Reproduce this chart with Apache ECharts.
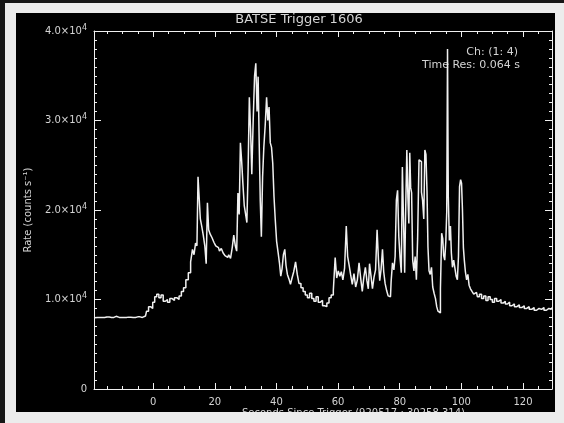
<!DOCTYPE html>
<html>
<head>
<meta charset="utf-8">
<script src="https://cdn.jsdelivr.net/npm/echarts@6/dist/echarts.min.js"></script>
<style>
  html, body { margin: 0; padding: 0; }
  body { width: 564px; height: 423px; background: #ececec; position: relative; overflow: hidden; }
  #edgeLeft { position: absolute; left: 0; top: 0; width: 5px; height: 423px; background: #161616; }
  #edgeTop { position: absolute; left: 0; top: 0; width: 564px; height: 3px; background: #161616; }
  #chart { position: absolute; left: 16px; top: 13px; width: 539px; height: 399px; background: #000; overflow: hidden; }
</style>
</head>
<body>
<div id="edgeLeft"></div>
<div id="edgeTop"></div>
<div id="chart"></div>
<script>
// Light curve: time since trigger (s) and summed count rate (counts/s)
const times = [
  -19.2, -18, -16.5, -15, -13.5, -12, -11, -9.5, -8, -6.5, -5, -3.5, -2.5, -1.8, -1.2, -0.5,
  0.2, 0.8, 1.5, 2.2, 2.9, 3.6, 4.3, 5, 5.8, 6.5, 7.3, 8, 8.8, 9.5, 10.2, 11, 11.8, 12.5,
  13, 13.5, 14, 14.4, 14.7, 15.1, 15.5, 16, 16.5, 17, 17.4, 17.8, 18.2, 18.8, 19.4, 20,
  20.6, 21.2, 21.8, 22.4, 23, 23.6, 24.2, 24.8, 25.4, 25.9, 26.4, 26.9, 27.3, 27.7, 28.1,
  28.5, 28.9, 29.3, 29.8, 30.2, 30.6, 31.0, 31.4, 31.8, 32.2, 32.7, 33.1, 33.5, 33.9, 34.2,
  34.6, 34.9, 35.3, 35.7, 36.1, 36.6, 37.0, 37.4, 37.8, 38.2, 38.6, 39.0, 39.4, 39.8, 40.3,
  40.8, 41.2, 41.6, 42.0, 42.5, 42.9, 43.3, 43.8, 44.3, 44.8, 45.3, 45.9, 46.5, 47.0, 47.6,
  48.3, 49.0, 49.7, 50.4, 51.1, 51.8, 52.5, 53.2, 53.9, 54.6, 55.3, 56.0, 56.7, 57.4, 58.1,
  58.8, 59.3, 59.8, 60.3, 60.8, 61.3, 61.8, 62.4, 62.9, 63.3, 63.8, 64.3, 64.9, 65.4, 66.0,
  66.5, 67.1, 67.6, 68.1, 68.6, 69.1, 69.6, 70.0, 70.4, 70.9, 71.4, 71.9, 72.4, 72.9, 73.3,
  73.7, 74.2, 74.6, 75.0, 75.5, 76.0, 76.5, 77.0, 77.4, 77.9, 78.3, 78.7, 79.1, 79.5, 79.9,
  80.3, 80.7, 81.0, 81.4, 81.8, 82.1, 82.5, 82.8, 83.1, 83.4, 83.7, 84.0, 84.4, 84.8, 85.2,
  85.6, 86.0, 86.5, 86.9, 87.2, 87.6, 88.0, 88.3, 88.7, 89.0, 89.3, 89.7, 90.1, 90.5, 90.9,
  91.4, 91.8, 92.2, 92.6, 93.0, 93.4, 93.8, 94.1, 94.4, 94.8, 95.1, 95.4, 95.6, 95.9, 96.3,
  96.6, 96.9, 97.3, 97.7, 98.1, 98.5, 98.9, 99.2, 99.6, 99.9, 100.2, 100.5, 100.8, 101.1, 101.5,
  101.9, 102.3, 102.7, 103.2, 103.7, 104.3, 104.9, 105.5, 106.2, 106.9, 107.6, 108.3, 109.0, 109.7, 110.4,
  111.1, 111.8, 112.5, 113.2, 113.9, 114.6, 115.3, 116.0, 116.8, 117.6, 118.4, 119.2, 120.0, 120.8, 121.6,
  122.4, 123.2, 124.0, 124.8, 125.6, 126.4, 127.2, 128.0, 128.8, 129.4
];
const rates = [
  7950, 8000, 7980, 8050, 8000, 8120, 8000, 7980, 8030, 8000, 8060, 8000, 8150, 8700, 9200, 9000,
  9700, 10300, 10600, 10200, 10500, 9800, 10000, 9700, 10100, 9900, 10200, 10000, 10400, 10900, 11300, 12200, 13000, 14200,
  15600, 15000, 16300, 16000, 23700, 21500, 19000, 18200, 17200, 16000, 14000, 20800, 17800, 17300, 16900, 16400,
  16000, 15800, 15400, 15700, 15200, 14900, 14700, 15000, 14600, 15800, 17200, 16000, 15400, 21900, 19500,
  27500, 25500, 23000, 20500, 19500, 18600, 24500, 32600, 29000, 24000, 30000, 35000, 36400, 31000, 34900,
  27500, 21000, 17000, 23700, 27000, 29500, 32600, 30000, 31500, 27500, 27000, 25200, 21500, 19000, 16500,
  15200, 14000, 12600, 13400, 15000, 15600, 13800, 12800, 12300, 11700, 12400, 13100, 14200, 12800, 11800,
  11300, 10900, 10500, 10200, 10700, 10100, 9800, 10300, 9700, 9900, 9300, 9200, 9600, 10200, 10500,
  11000, 14700, 12400, 13200, 12600, 13100, 12200, 13500, 18200, 14800, 13900, 12800, 11700, 12900, 11400,
  12200, 14100, 12300, 10900, 12500, 13600, 12100, 11200, 14000, 12700, 11200, 12500, 13300, 17800, 14400,
  12100, 13400, 15600, 13100, 11800, 11000, 10400, 10300, 12000, 14100, 13300, 14800, 21100, 22200, 17000,
  14700, 13000, 24800, 19200, 13000, 20500, 26700, 21400, 18500, 26400, 22500, 21900, 14400, 13200, 14800,
  12200, 16800, 25600, 25400, 22000, 21100, 19000, 26700, 26200, 22000, 15900, 13200, 12800, 13600, 11400,
  10700, 10100, 9200, 8700, 8500, 11200, 17400, 16800, 14900, 14400, 16500, 19800, 38000, 21500, 16600,
  18200, 15200, 13600, 14400, 13500, 12600, 12200, 14800, 22600, 23400, 23000, 20000, 15800, 14400, 13100,
  12200, 12800, 11600, 11200, 10900, 10600, 10800, 10300, 10600, 10100, 10400, 9900, 10300, 10000, 9700,
  10100, 9800, 10000, 9600, 9800, 9500, 9700, 9300, 9500, 9200, 9400, 9100, 9300, 9000, 9200,
  8900, 9100, 8800, 9000, 8900, 9100, 8800, 9000, 8900, 9100
];

// Axis ticks
const xMajorTicks = [0, 20, 40, 60, 80, 100, 120];
const xMinorTicks = [-15, -10, -5, 5, 10, 15, 25, 30, 35, 45, 50, 55, 65, 70, 75, 85, 90, 95, 105, 110, 115, 125];
const yMajorTicks = [0, 10000, 20000, 30000, 40000];
const yMinorTicks = [1000, 2000, 3000, 4000, 5000, 6000, 7000, 8000, 9000,
  11000, 12000, 13000, 14000, 15000, 16000, 17000, 18000, 19000,
  21000, 22000, 23000, 24000, 25000, 26000, 27000, 28000, 29000,
  31000, 32000, 33000, 34000, 35000, 36000, 37000, 38000, 39000];

const titleText = 'BATSE Trigger 1606';
const xTitle = 'Seconds Since Trigger (920517 : 30258.314)';
const yTitle = 'Rate (counts s\u207B\u00B9)';
const noteLines = ['Ch: (1: 4)', 'Time Res: 0.064 s'];

const X_MIN = -19.2, X_MAX = 129.4, Y_MIN = 0, Y_MAX = 40000;
const INK = '#f0f0f0';
const TEXT = '#d4d4d4';
const FONT = '"DejaVu Sans", Verdana, sans-serif';

function xAxisDef(position, ticks, tickLen, withLine, withLabels) {
  return {
    type: 'value', position: position, min: X_MIN, max: X_MAX,
    axisLine: { show: withLine, onZero: false, lineStyle: { color: INK, width: 1 } },
    axisTick: { show: true, inside: true, length: tickLen, customValues: ticks, lineStyle: { color: INK, width: 1 } },
    axisLabel: withLabels
      ? { show: true, customValues: ticks, color: TEXT, fontSize: 10, fontFamily: FONT, margin: 8 }
      : { show: false },
    splitLine: { show: false }
  };
}
function yAxisDef(position, ticks, tickLen, withLine, withLabels) {
  return {
    type: 'value', position: position, min: Y_MIN, max: Y_MAX,
    axisLine: { show: withLine, onZero: false, lineStyle: { color: INK, width: 1 } },
    axisTick: { show: true, inside: true, length: tickLen, customValues: ticks, lineStyle: { color: INK, width: 1 } },
    axisLabel: withLabels ? {
      show: true, customValues: ticks, color: TEXT, fontFamily: FONT, margin: 7,
      formatter: function (v) {
        if (v === 0) return '{m|0}';
        return '{m|' + (v / 10000).toFixed(1) + '\u00D710}{e|4}';
      },
      rich: {
        m: { fontSize: 10, color: TEXT, fontFamily: FONT },
        e: { fontSize: 8, color: TEXT, fontFamily: FONT, verticalAlign: 'bottom', padding: [0, 0, 7, 0] }
      }
    } : { show: false },
    splitLine: { show: false }
  };
}

const chart = echarts.init(document.getElementById('chart'), null, { renderer: 'canvas' });
chart.setOption({
  backgroundColor: '#000',
  animation: false,
  grid: { left: 78, right: 3, top: 18, bottom: 23, containLabel: false },
  xAxis: [
    xAxisDef('bottom', xMajorTicks, 6, true, true),
    xAxisDef('bottom', xMinorTicks, 3, false, false),
    xAxisDef('top', xMajorTicks, 6, true, false),
    xAxisDef('top', xMinorTicks, 3, false, false)
  ],
  yAxis: [
    yAxisDef('left', yMajorTicks, 7, true, true),
    yAxisDef('left', yMinorTicks, 3, false, false),
    yAxisDef('right', yMajorTicks, 7, true, false),
    yAxisDef('right', yMinorTicks, 3, false, false)
  ],
  series: [{
    type: 'line',
    xAxisIndex: 0, yAxisIndex: 0,
    data: times.map(function (t, i) { return [t, rates[i]]; }),
    step: 'middle',
    showSymbol: false,
    lineStyle: { color: INK, width: 1.5 },
    clip: true
  }],
  graphic: [
    { type: 'text', x: 283, y: 7, style: { text: titleText, fill: TEXT, font: '13px ' + FONT, align: 'center', verticalAlign: 'middle' } },
    { type: 'text', x: 502, y: 39, style: { text: noteLines[0], fill: TEXT, font: '11px ' + FONT, align: 'right', verticalAlign: 'middle' } },
    { type: 'text', x: 504, y: 52, style: { text: noteLines[1], fill: TEXT, font: '11px ' + FONT, align: 'right', verticalAlign: 'middle' } },
    { type: 'text', x: 12, y: 197, rotation: Math.PI / 2, style: { text: yTitle, fill: TEXT, font: '10px ' + FONT, align: 'center', verticalAlign: 'middle' } },
    { type: 'text', x: 226, y: 395, style: { text: xTitle, fill: TEXT, font: '10px ' + FONT, align: 'left', verticalAlign: 'top' } }
  ]
});
</script>
</body>
</html>
